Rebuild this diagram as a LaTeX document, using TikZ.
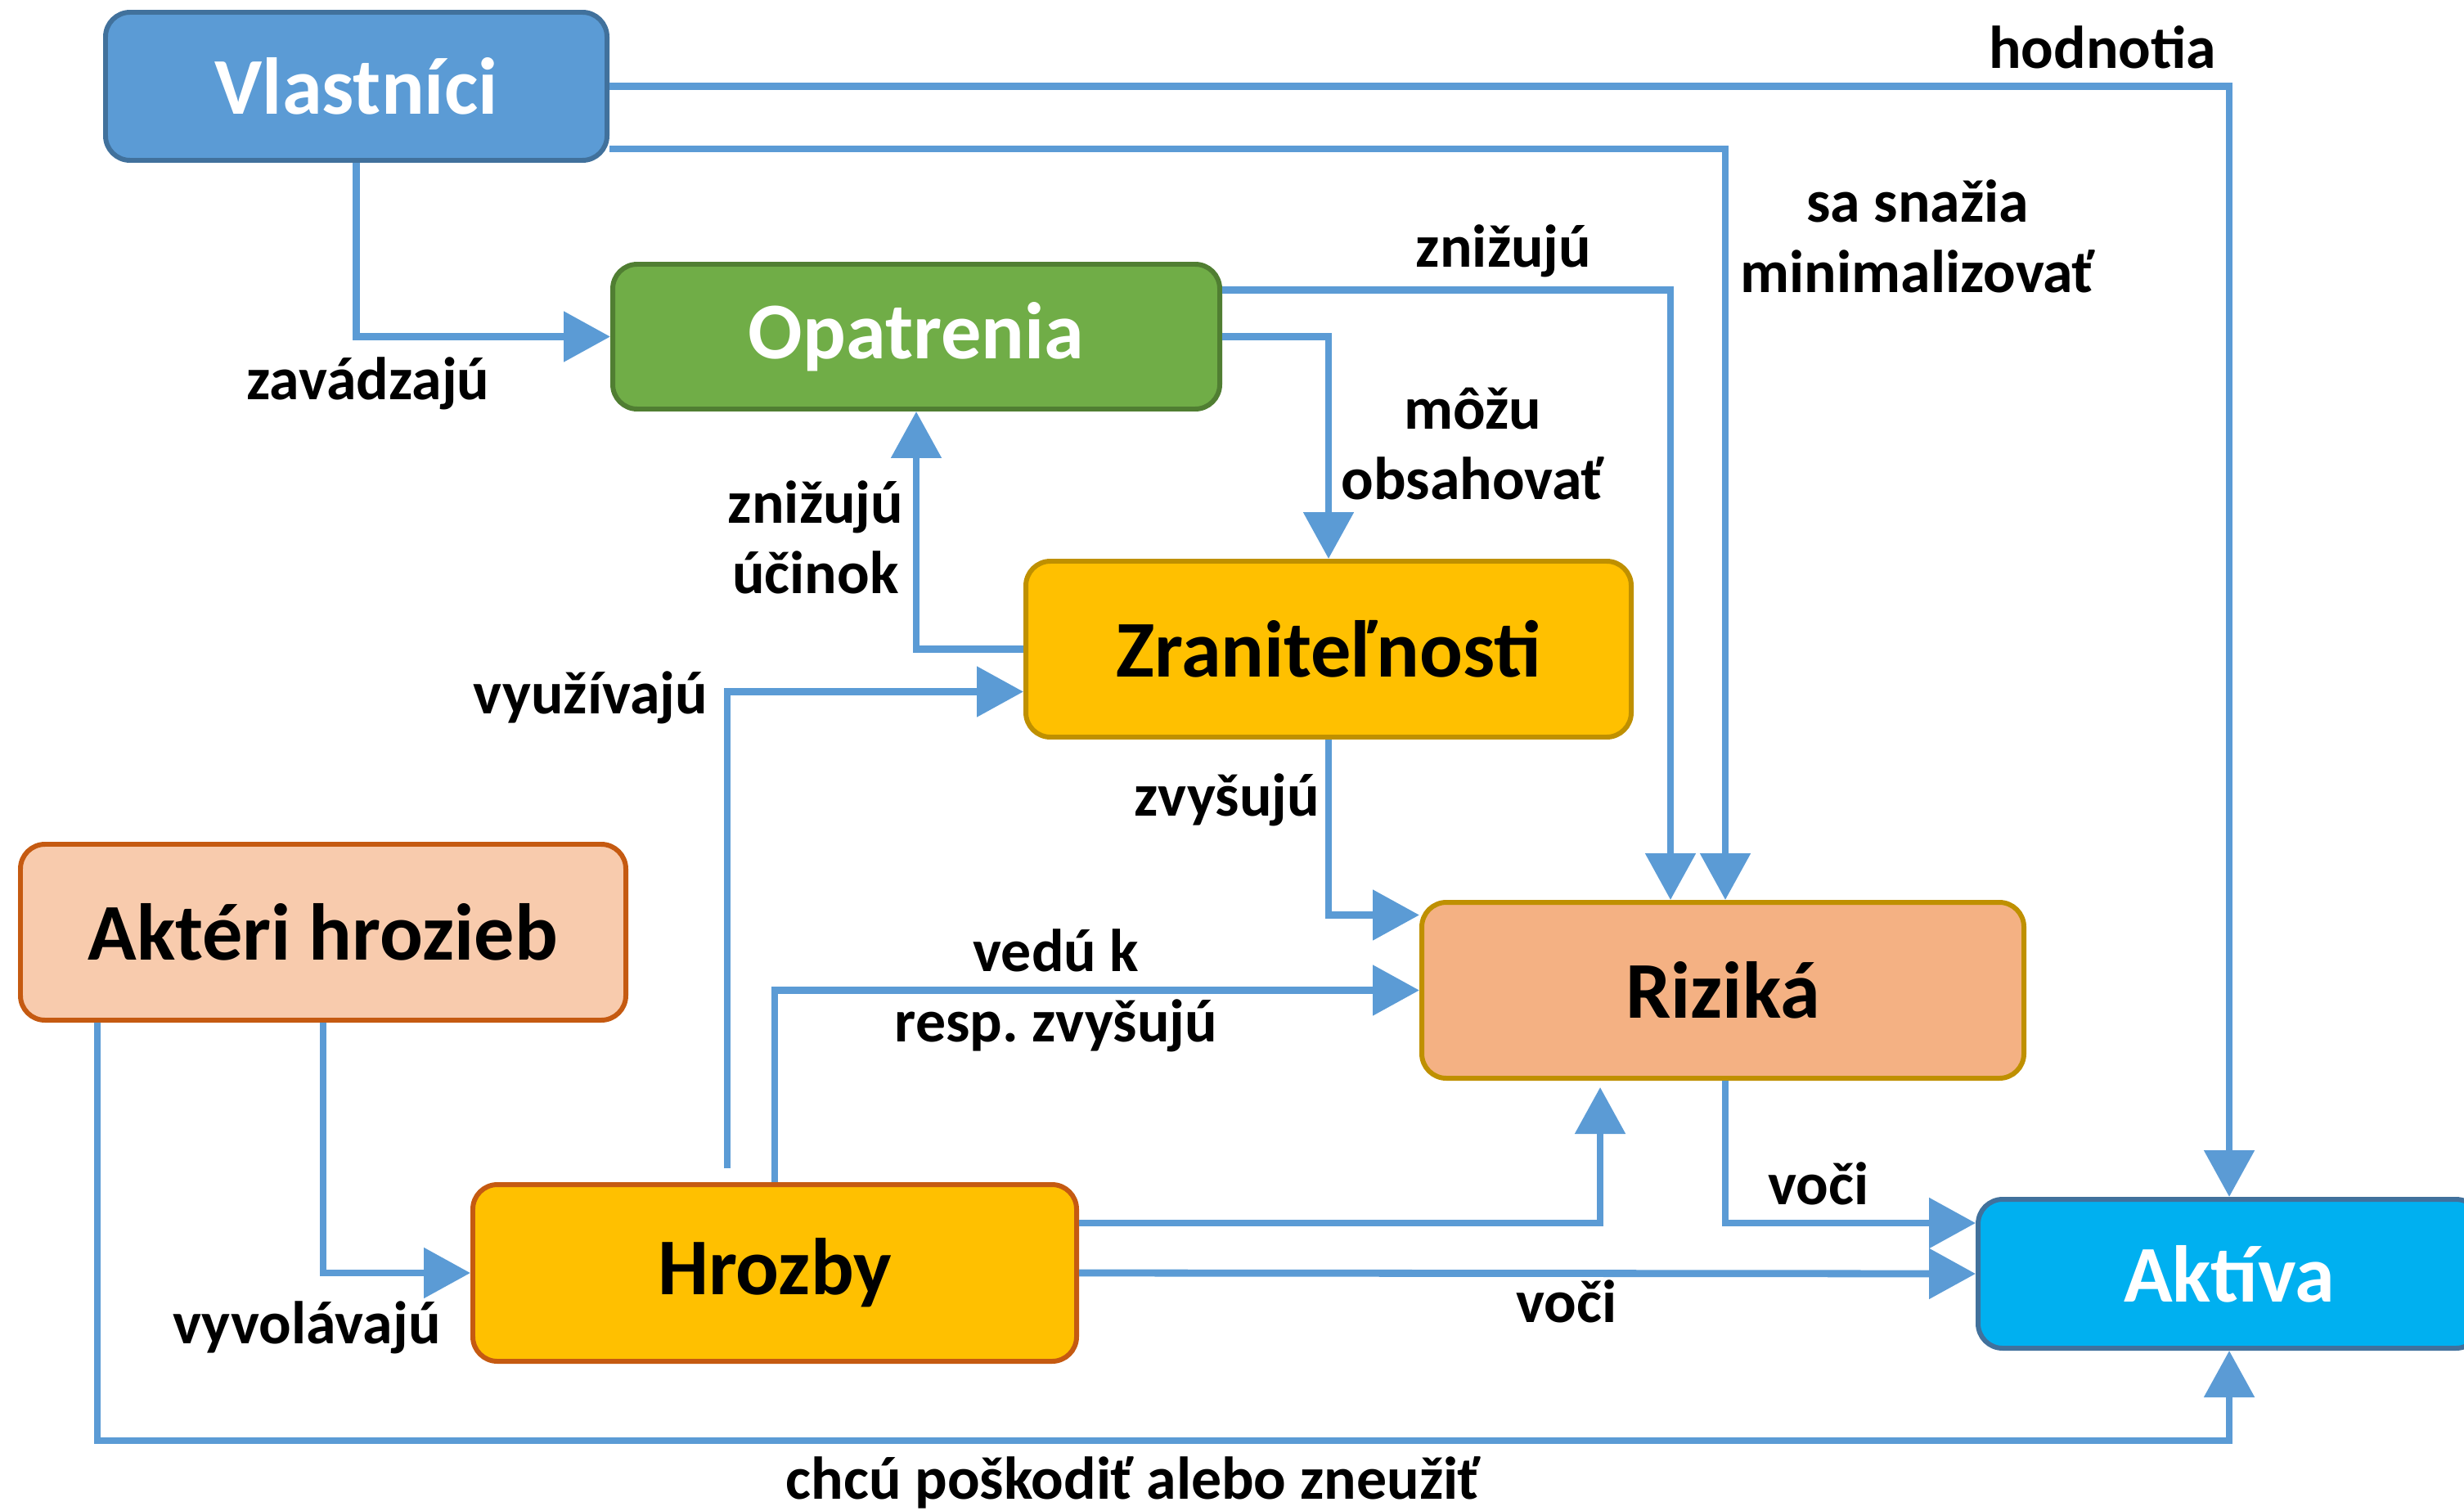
\documentclass[tikz,border=0pt]{standalone}
\usepackage{fontspec}
\setmainfont{Carlito}
\usepackage{tikz}
\usetikzlibrary{arrows.meta,positioning}
\definecolor{linkblue}{RGB}{91,155,213}
\definecolor{ownerline}{RGB}{65,113,156}
\definecolor{measgreen}{RGB}{112,173,71}
\definecolor{measline}{RGB}{80,126,50}
\definecolor{gold}{RGB}{255,192,0}
\definecolor{goldline}{RGB}{191,144,0}
\definecolor{rustline}{RGB}{197,90,17}
\definecolor{peach}{RGB}{248,203,173}
\definecolor{salmon}{RGB}{244,177,131}
\definecolor{assetcyan}{RGB}{0,176,240}

\begin{document}
\begin{tikzpicture}[
  box/.style={draw,line width=1.7pt,rounded corners=0.3cm,
    font=\fontsize{28}{32}\selectfont\bfseries},
  conn/.style={linkblue,line width=2.5pt,-{Triangle[length=0.57cm,width=0.6cm]}},
  lbl/.style={align=center,font=\fontsize{21}{24.5}\selectfont\bfseries}]
  \useasboundingbox (0,0) rectangle (30.12,18.46);
  % entities
  \node[box,fill=linkblue,draw=ownerline,text=white,minimum width=6.13cm,minimum height=1.81cm]
    (vl) at (4.355,17.405) {Vlastníci};
  \node[box,fill=measgreen,draw=measline,text=white,minimum width=7.42cm,minimum height=1.77cm]
    (op) at (11.20,14.345) {Opatrenia};
  \node[box,fill=gold,draw=goldline,minimum width=7.40cm,minimum height=2.15cm]
    (zr) at (16.24,10.525) {Zraniteľnosti};
  \node[box,fill=peach,draw=rustline,minimum width=7.40cm,minimum height=2.15cm]
    (at) at (3.95,7.065) {Aktéri hrozieb};
  \node[box,fill=salmon,draw=goldline,minimum width=7.36cm,minimum height=2.15cm]
    (ri) at (21.06,6.355) {Riziká};
  \node[box,fill=gold,draw=rustline,minimum width=7.38cm,minimum height=2.16cm]
    (hr) at (9.47,2.90) {Hrozby};
  \node[box,fill=assetcyan,draw=ownerline,text=white,minimum width=6.14cm,minimum height=1.82cm]
    (ak) at (27.25,2.89) {Aktíva};
  % relations
  \draw[conn] (vl.east) -| (ak.north);
  \draw[conn] ([yshift=0.17cm]vl.south east) -| ([xshift=0.03cm]ri.north);
  \draw[conn] (vl.south) |- (op.west);
  \draw[conn] ([yshift=0.57cm]op.east) -| ([xshift=-0.64cm]ri.north);
  \draw[conn] (op.east) -| (zr.north);
  \draw[conn] (zr.west) -| (op.south);
  \draw[conn] ([xshift=-0.58cm,yshift=0.17cm]hr.north) |- ([yshift=-0.52cm]zr.west);
  \draw[conn] (zr.south) |- ([yshift=0.92cm]ri.west);
  \draw[conn] (hr.north) |- (ri.west);
  \draw[conn] ([yshift=0.61cm]hr.east) -| ([xshift=-1.5cm,yshift=-0.08cm]ri.south);
  \draw[conn] (hr.east) -- (ak.west);
  \draw[conn] ([xshift=0.03cm]ri.south) |- ([yshift=0.62cm]ak.west);
  \draw[conn] (at.south) |- (hr.west);
  \draw[conn] ([xshift=-2.76cm]at.south) |- ([yshift=-1.1cm]ak.south) -- (ak.south);
  % labels
  \node[lbl] (l1) at (25.70,17.88) {hodnotia};
  \node[lbl] (l2) at (23.44,15.57) {sa snažia\\minimalizovať};
  \node[lbl] (l3) at (4.50,13.77) {zavádzajú};
  \node[lbl] (l4) at (18.38,15.39) {znižujú};
  \node[lbl] (l5) at (18.00,13.03) {môžu\\obsahovať};
  \node[lbl] (l6) at (9.97,11.89) {znižujú\\účinok};
  \node[lbl] (l7) at (7.22,9.93) {využívajú};
  \node[lbl] (l8) at (15.00,8.68) {zvyšujú};
  \node[lbl] (l9) at (12.91,6.35) {vedú k\\resp.\ zvyšujú};
  \node[lbl] (l10) at (19.15,2.55) {voči};
  \node[lbl] (l11) at (22.23,3.99) {voči};
  \node[lbl] (l12) at (3.75,2.23) {vyvolávajú};
  \node[lbl] (l13) at (13.85,0.34) {chcú poškodiť alebo zneužiť};
\end{tikzpicture}
\end{document}
